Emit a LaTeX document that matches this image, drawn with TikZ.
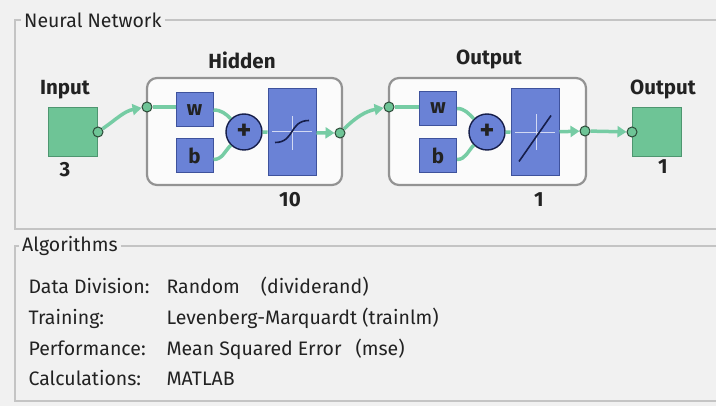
\documentclass[tikz,border=0pt]{standalone}
\usepackage{fontspec}
\setmainfont{Fira Sans}
\usetikzlibrary{arrows.meta}
\definecolor{panel}{RGB}{241,241,241}
\definecolor{frameline}{RGB}{196,196,196}
\definecolor{portgreen}{RGB}{110,196,150}
\definecolor{portedge}{RGB}{78,150,112}
\definecolor{wiregreen}{RGB}{118,204,164}
\definecolor{dotedge}{RGB}{44,74,56}
\definecolor{blockblue}{RGB}{106,130,214}
\definecolor{blockedge}{RGB}{62,82,156}
\definecolor{curvenavy}{RGB}{22,30,74}
\definecolor{inktext}{RGB}{34,34,34}

\begin{document}
\begin{tikzpicture}[x=1pt,y=-1pt,font=\fontsize{19.5}{24}\selectfont,text=inktext]

			\tikzstyle{frame} = [draw=frameline,line width=1.2pt]
			\tikzstyle{title} = [fill=panel,inner sep=3pt,anchor=west]
			\tikzstyle{lbl} = [font=\fontsize{20.5}{24}\selectfont\bfseries]
			\tikzstyle{portsq} = [draw=portedge,fill=portgreen,line width=1pt,minimum size=49pt,inner sep=0pt]
			\tikzstyle{dot} = [circle,draw=dotedge,fill=portgreen,line width=1pt,minimum size=10pt,inner sep=0pt]
			\tikzstyle{layer} = [draw=gray!85,fill=white!97!gray,line width=2.2pt,rounded corners=10pt,minimum height=107pt]
			\tikzstyle{wb} = [draw=blockedge,fill=blockblue,line width=1pt,minimum width=37pt,minimum height=34pt,inner sep=0pt,font=\fontsize{20.5}{24}\selectfont\bfseries]
			\tikzstyle{sum} = [circle,draw=curvenavy,fill=blockblue,line width=1.4pt,minimum size=36pt,inner sep=0pt,font=\fontsize{28}{28}\selectfont\bfseries]
			\tikzstyle{tf} = [draw=blockedge,fill=blockblue,line width=1pt,minimum width=48pt,minimum height=87pt,inner sep=0pt]
			\tikzstyle{wire} = [draw=wiregreen,line width=3.5pt]
			\tikzstyle{tip} = [-{Triangle[length=9pt,width=11pt,fill=wiregreen]}]
			\tikzstyle{gridline} = [draw=white!70!blockblue,line width=0.8pt]

			\useasboundingbox (0,0) rectangle (716,406);
			\fill[panel] (0,0) rectangle (716,406);

			% frames
			\node[title] (nntitle) at (21,20) {Neural Network};
			\coordinate (nnend) at (716,20);
			\draw[frame] (nntitle.west) -| (15,229) -- (716,229);
			\draw[frame] (nntitle) -- (nnend);

			\node[title] (algtitle) at (19,246) {Algorithms};
			\coordinate (algend) at (716,246);
			\draw[frame] (algtitle.west) -| (15,401) -- (716,401);
			\draw[frame] (algtitle) -- (algend);

			% input
			\node[portsq] (insq) at (73,132) {};
			\node[lbl] (inlbl) at (65,90) {Input};
			\node[lbl] (inn) at (65,170) {3};
			\node[dot] (inport) at (98,132) {};

			% hidden layer
			\node[layer,minimum width=195pt] (hid) at (244.5,131.5) {};
			\node[lbl] (hidlbl) at (242,60) {Hidden};
			\node[lbl] (hidn) at (290,200) {10};
			\node[dot] (hidin) at (147,107) {};
			\node[wb] (hidw) at (194.5,110) {w};
			\node[wb] (hidb) at (194.5,155.5) {b};
			\node[sum] (hidsum) at (244,132) {+};
			\node[tf] (hidtf) at (292,132.5) {};
			\node[dot] (hidout) at (340,133) {};

			\draw[gridline] ([shift={(-20,-1.5)}]hidtf.center) -- ([shift={(20,-1.5)}]hidtf.center);
			\draw[gridline] ([shift={(0,-16)}]hidtf.center) -- ([shift={(0,18)}]hidtf.center);
			\draw[curvenavy,line width=1.6pt] ([shift={(-17,10)}]hidtf.center) .. controls ([shift={(3,10)}]hidtf.center) and ([shift={(-3,-12)}]hidtf.center) .. ([shift={(17,-12)}]hidtf.center);

			% output layer
			\node[layer,minimum width=197pt] (outl) at (487.5,131.5) {};
			\node[lbl] (outllbl) at (489,60) {Output};
			\node[lbl] (outln) at (539,200) {1};
			\node[dot] (outin) at (389,107) {};
			\node[wb] (outw) at (438,108.5) {w};
			\node[wb] (outb) at (438,155.5) {b};
			\node[sum] (outsum) at (487,132) {+};
			\node[tf] (outtf) at (535,132.5) {};
			\node[dot] (outout) at (585,131) {};

			\draw[gridline] ([shift={(-20,0)}]outtf.center) -- ([shift={(20,0)}]outtf.center);
			\draw[gridline] ([shift={(1,-18)}]outtf.center) -- ([shift={(1,18)}]outtf.center);
			\draw[curvenavy,line width=1.6pt] ([shift={(-16,29)}]outtf.center) -- ([shift={(16,-17)}]outtf.center);

			% output
			\node[portsq] (outsq) at (656.5,132) {};
			\node[lbl] (outsqlbl) at (663,90) {Output};
			\node[lbl] (outsqn) at (663,167) {1};
			\node[dot] (outport) at (632,132) {};

			% wires
			\draw[wire,tip] (inport) to[out=35,in=190] (hidin);
			\draw[wire] (hidin) -- (hidin -| hidw.west);
			\draw[wire] (hidw.east) to[out=0,in=135] (hidsum);
			\draw[wire] ([yshift=-4pt]hidb.east) to[out=0,in=225] (hidsum);
			\draw[wire] (hidsum) -- (hidtf);
			\draw[wire,tip] (hidtf) -- (hidout);
			\draw[wire,tip] (hidout) to[out=45,in=190] (outin);
			\draw[wire] (outin) -- (outin -| outw.west);
			\draw[wire] (outw.east) to[out=0,in=135] (outsum);
			\draw[wire] ([yshift=-4pt]outb.east) to[out=0,in=225] (outsum);
			\draw[wire] (outsum) -- (outtf);
			\draw[wire,tip] (outtf) -- (outout);
			\draw[wire,tip] (outout) -- (outport);

			% algorithms
			\node[anchor=base west] (ddkey) at (25,294) {Data Division:};
			\node[anchor=base west] (ddval) at (163,294) {Random\hspace{21pt}(dividerand)};
			\node[anchor=base west] (trkey) at (25,325) {Training:};
			\node[anchor=base west] (trval) at (163,325) {Levenberg-Marquardt (trainlm)};
			\node[anchor=base west] (pfkey) at (25,356) {Performance:};
			\node[anchor=base west] (pfval) at (163,356) {Mean Squared Error\hspace{14pt}(mse)};
			\node[anchor=base west] (clkey) at (25,386) {Calculations:};
			\node[anchor=base west] (clval) at (163,386) {MATLAB};
		\end{tikzpicture}
\end{document}
